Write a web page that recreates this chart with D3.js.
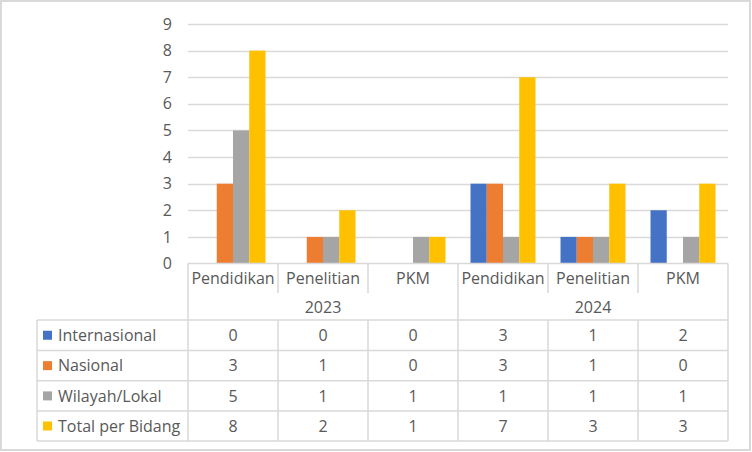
<!DOCTYPE html>
<html>
<head>
<meta charset="utf-8">
<script src="https://cdn.jsdelivr.net/npm/d3@7"></script>
<style>
  html, body { margin: 0; padding: 0; background: #fff; }
  svg { display: block; }
  text { font-family: "Open Sans", "Noto Sans", sans-serif; fill: #595959; }
</style>
</head>
<body>
<svg id="chart" width="752" height="452"></svg>
<script>
// ---- data ----
const years = ["2023", "2024"];
const fields = ["Pendidikan", "Penelitian", "PKM"];
const seriesNames = ["Internasional", "Nasional", "Wilayah/Lokal", "Total per Bidang"];
const internasional = [0, 0, 0, 3, 1, 2];
const nasional = [3, 1, 0, 3, 1, 0];
const wilayahLokal = [5, 1, 1, 1, 1, 1];
const totalPerBidang = [8, 2, 1, 7, 3, 3];
const yTicks = [0, 1, 2, 3, 4, 5, 6, 7, 8, 9];
const colors = ["#4472C4", "#ED7D31", "#A5A5A5", "#FFC000"];

const seriesValues = [internasional, nasional, wilayahLokal, totalPerBidang];
const categories = [];
years.forEach(y => fields.forEach(f => categories.push({ year: y, field: f, key: y + "-" + f })));

// ---- layout ----
const svg = d3.select("#chart");
const plotL = 188, plotR = 728, plotTop = 24, plotBottom = 263.5;
const tableL = 37;
const catRowSep = 293;
const rowTops = [320, 350.5, 380.8, 411, 441];
const gridColor = "#D9D9D9";

// outer border
svg.append("rect").attr("x", 1).attr("y", 1).attr("width", 749).attr("height", 449)
  .attr("fill", "#fff").attr("stroke", gridColor).attr("stroke-width", 2);

const x = d3.scaleBand().domain(categories.map(c => c.key)).range([plotL, plotR]).padding(0);
const bw = x.bandwidth();
const xInner = d3.scaleBand().domain(seriesNames).range([bw * 0.139, bw * 0.861]).padding(0);
const y = d3.scaleLinear().domain([0, 9]).range([plotBottom, plotTop]);

// gridlines
svg.append("g").selectAll("line").data(yTicks.filter(t => t > 0)).join("line")
  .attr("x1", plotL).attr("x2", plotR)
  .attr("y1", d => Math.round(y(d)) + 0.5).attr("y2", d => Math.round(y(d)) + 0.5)
  .attr("stroke", gridColor).attr("stroke-width", 1.3);

// y axis labels
const yAxis = d3.axisLeft(y).tickValues(yTicks).tickSize(0).tickPadding(0);
const gy = svg.append("g").attr("transform", `translate(${172},0)`).call(yAxis);
gy.select(".domain").remove();
gy.selectAll("text").attr("font-size", 16).attr("fill", "#595959")
  .style("font-family", '"Open Sans", "Noto Sans", sans-serif');

// bars
const barData = [];
categories.forEach((c, i) => seriesNames.forEach((s, j) => {
  barData.push({ key: c.key, series: s, value: seriesValues[j][i], color: colors[j] });
}));
svg.append("g").selectAll("rect").data(barData.filter(d => d.value > 0)).join("rect")
  .attr("x", d => x(d.key) + xInner(d.series))
  .attr("width", xInner.bandwidth())
  .attr("y", d => y(d.value))
  .attr("height", d => y(0) - y(d.value))
  .attr("fill", d => d.color);

// ---- data table ----
const tg = svg.append("g").attr("stroke", gridColor).attr("stroke-width", 1.5);
// axis line
tg.append("line").attr("x1", plotL).attr("x2", plotR).attr("y1", plotBottom).attr("y2", plotBottom);
// horizontal row lines
rowTops.forEach(r => tg.append("line").attr("x1", tableL).attr("x2", plotR).attr("y1", r).attr("y2", r));
// left table edge
tg.append("line").attr("x1", tableL).attr("x2", tableL).attr("y1", rowTops[0]).attr("y2", rowTops[4]);
// vertical lines at category boundaries
const bounds = categories.map(c => x(c.key)).concat([plotR]);
bounds.forEach((bx, i) => {
  const full = (i === 0 || i === bounds.length - 1 || i === fields.length);
  if (full) {
    tg.append("line").attr("x1", bx).attr("x2", bx).attr("y1", plotBottom).attr("y2", rowTops[4]);
  } else {
    tg.append("line").attr("x1", bx).attr("x2", bx).attr("y1", plotBottom).attr("y2", catRowSep);
    tg.append("line").attr("x1", bx).attr("x2", bx).attr("y1", rowTops[0]).attr("y2", rowTops[4]);
  }
});

const fs = 16;
// category labels
svg.append("g").selectAll("text").data(categories).join("text")
  .attr("x", d => x(d.key) + bw / 2).attr("y", 278).attr("dy", "0.35em")
  .attr("text-anchor", "middle").attr("font-size", fs).text(d => d.field);
// year labels
svg.append("g").selectAll("text").data(years).join("text")
  .attr("x", (d, i) => x(categories[i * fields.length].key) + bw * fields.length / 2)
  .attr("y", 307).attr("dy", "0.35em")
  .attr("text-anchor", "middle").attr("font-size", fs).text(d => d);

// rows
seriesNames.forEach((s, j) => {
  const cy = (rowTops[j] + rowTops[j + 1]) / 2;
  svg.append("rect").attr("x", 43).attr("y", cy - 4.5).attr("width", 9).attr("height", 9).attr("fill", colors[j]);
  svg.append("text").attr("x", 58).attr("y", cy).attr("dy", "0.35em").attr("font-size", fs).text(s);
  svg.append("g").selectAll("text").data(seriesValues[j]).join("text")
    .attr("x", (d, i) => x(categories[i].key) + bw / 2).attr("y", cy).attr("dy", "0.35em")
    .attr("text-anchor", "middle").attr("font-size", fs).text(d => d);
});
</script>
</body>
</html>
